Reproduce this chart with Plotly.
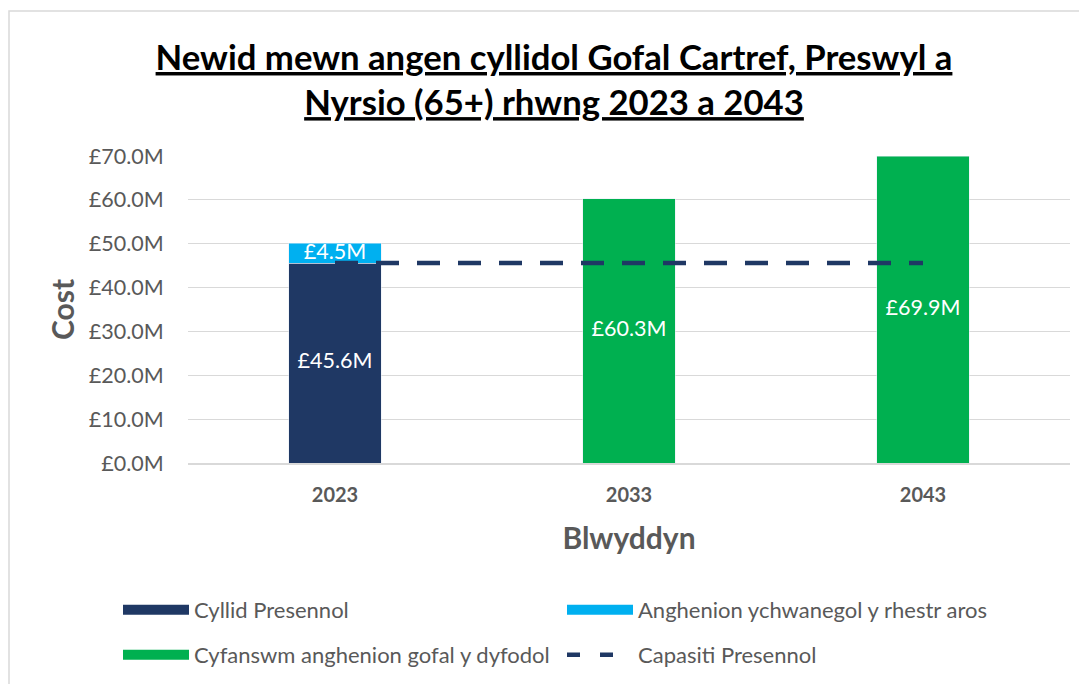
import plotly.graph_objects as go

years = ["2023", "2033", "2043"]
current_budget = [45.6, None, None]
waiting_list = [4.5, None, None]
future_need = [None, 60.3, 69.9]
capacity = [45.6, 45.6, 45.6]

names = ["Cyllid Presennol", "Anghenion ychwanegol y rhestr aros",
         "Cyfanswm anghenion gofal y dyfodol", "Capasiti Presennol"]

NAVY = "#1F3864"
LBLUE = "#00B0F0"
GREEN = "#00B050"
GRAY = "#595959"
FONT = "Lato"

W, H = 1087, 684
OFF = 8  # page body margin
L, T = 188 - OFF, 156 - OFF
R = W - (1070 - OFF)
B = H - (463 - OFF)
pw, ph = W - L - R, H - T - B


def px(xr):
    return (xr - OFF - L) / pw


def py(yr):
    return (H - B - (yr - OFF)) / ph


def fmt(v):
    return f"£{v:.1f}M"


fig = go.Figure()
fig.add_trace(go.Bar(x=years, y=current_budget, marker_color=NAVY, showlegend=False))
fig.add_trace(go.Bar(x=years, y=waiting_list, marker_color=LBLUE, showlegend=False))
fig.add_trace(go.Bar(x=years, y=future_need, marker_color=GREEN, showlegend=False))
fig.add_trace(go.Scatter(x=years, y=capacity, mode="lines",
                         line=dict(color=NAVY, width=4.5, dash="23px,18px"),
                         showlegend=False))

# data labels
lx, ly, lt = [], [], []
for i, yr in enumerate(years):
    base = 0
    for series in (current_budget, waiting_list, future_need):
        v = series[i]
        if v is not None:
            lx.append(yr)
            ly.append(base + v / 2)
            lt.append(fmt(v))
            base += v
fig.add_trace(go.Scatter(x=lx, y=ly, mode="text", text=lt,
                         textfont=dict(color="white", size=21.5, family=FONT),
                         showlegend=False, hoverinfo="skip"))

# legend proxies: one legend box per entry (2x2 grid like the reference)
leg_items = [(names[0], NAVY, "solid", 14, "legend", 110, 602),
             (names[1], LBLUE, "solid", 14, "legend2", 554, 602),
             (names[2], GREEN, "solid", 14, "legend3", 110, 647),
             (names[3], NAVY, "13px,20px", 4.5, "legend4", 554, 647)]
legend_common = dict(orientation="h", xanchor="left", yanchor="middle",
                     xref="container", yref="container",
                     font=dict(size=22, color=GRAY, family=FONT),
                     bgcolor="rgba(0,0,0,0)", itemwidth=66)
legends = {}
for nm, col, dash, wd, lg, lxp, lyp in leg_items:
    fig.add_trace(go.Scatter(x=[None], y=[None], mode="lines", name=nm,
                             line=dict(color=col, width=wd, dash=dash), legend=lg))
    legends[lg] = dict(x=lxp / W, y=1 - lyp / H, **legend_common)
fig.update_layout(**legends)

fig.update_layout(
    width=W, height=H,
    margin=dict(l=L, r=R, t=T, b=B, autoexpand=False),
    barmode="stack", bargap=0.684,
    plot_bgcolor="white", paper_bgcolor="white",
    font=dict(family=FONT, color=GRAY),
    title=dict(text="<b><u>Newid mewn angen cyllidol Gofal Cartref, Preswyl a</u></b><br>"
                    "<b><u>Nyrsio (65+) rhwng 2023 a 2043</u></b>",
               x=px(554), xref="paper", xanchor="center",
               y=1 - 62 / H, yref="container", yanchor="top",
               font=dict(size=34.7, color="black", family=FONT)),
    xaxis=dict(type="category", showgrid=False, showline=True, linecolor="#D9D9D9",
               linewidth=1.5, ticks="outside", ticklen=13, tickcolor="rgba(0,0,0,0)",
               tickfont=dict(size=20, color=GRAY, family=FONT, weight="bold"),
               title=dict(text="<b>Blwyddyn</b>", standoff=23,
                          font=dict(size=30, color=GRAY, family=FONT))),
    yaxis=dict(range=[0, 70], dtick=10, tickprefix="£", ticksuffix="M", tickformat=".1f",
               showgrid=True, gridcolor="#D9D9D9", gridwidth=1.3, zeroline=False,
               ticks="outside", ticklen=19, tickcolor="rgba(0,0,0,0)",
               tickfont=dict(size=21.5, color=GRAY, family=FONT),
               title=dict(text="<b>Cost</b>", standoff=5,
                          font=dict(size=30, color=GRAY, family=FONT))),
    shapes=[dict(type="rect", xref="paper", yref="paper",
                 x0=px(9), x1=px(W + 30),
                 y0=py(H + 30), y1=py(11),
                 line=dict(color="#D9D9D9", width=1.5), fillcolor="rgba(0,0,0,0)",
                 layer="below")],
)

fig.write_html("out.html")
